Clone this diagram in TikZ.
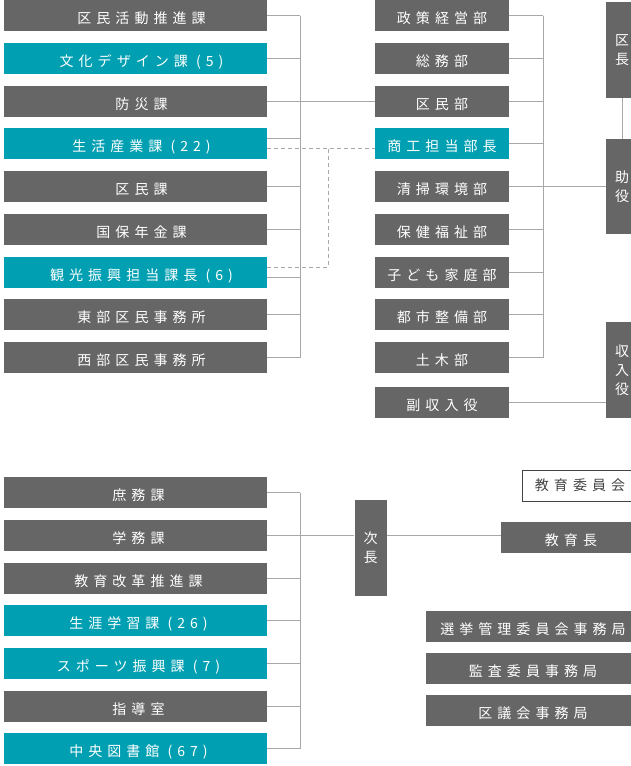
\documentclass[tikz,border=0pt]{standalone}
\usepackage{fontspec}
\newfontfamily\jp[LetterSpace=36]{Noto Sans CJK JP}
\definecolor{boxgray}{HTML}{666666}
\definecolor{tealc}{HTML}{00A0B2}
\definecolor{linegray}{HTML}{A8A8A8}
\definecolor{txtdark}{HTML}{444444}
\tikzset{
  box/.style={fill=boxgray, text=white, inner sep=0pt, minimum height=31pt,
    font=\jp\fontsize{14}{19}\selectfont, anchor=center},
  low/.style={text height=16pt, text depth=0pt},
  tl/.style={fill=tealc},
  lbox/.style={box, low, minimum width=263pt},
  mbox/.style={box, low, minimum width=134pt},
  vbox/.style={box, minimum width=32pt, minimum height=96pt, align=center},
  rbox/.style={box, low},
  conn/.style={draw=linegray, line width=1pt},
  dashline/.style={draw=linegray, line width=1pt, dashed, dash pattern=on 4pt off 3pt},
}
\begin{document}
\begin{tikzpicture}[x=1pt,y=-1pt]
\useasboundingbox (0,0) rectangle (631,766);
\fill[white] (0,0) rectangle (631,766);
% left column (top)
\node[lbox] (l1) at (135.5,15.5) {\kern12pt 区民活動推進課};
\node[lbox,tl] (l2) at (135.5,58.25) {\kern12pt 文化デザイン課 (5)};
\node[lbox] (l3) at (135.5,101) {\kern12pt 防災課};
\node[lbox,tl] (l4) at (135.5,143.75) {\kern12pt 生活産業課 (22)};
\node[lbox] (l5) at (135.5,186.5) {\kern12pt 区民課};
\node[lbox] (l6) at (135.5,229.25) {\kern12pt 国保年金課};
\node[lbox,tl] (l7) at (135.5,272) {\kern12pt 観光振興担当課長 (6)};
\node[lbox] (l8) at (135.5,314.75) {\kern12pt 東部区民事務所};
\node[lbox] (l9) at (135.5,357.5) {\kern12pt 西部区民事務所};
% middle column
\node[mbox] (m1) at (442,15.5) {政策経営部};
\node[mbox] (m2) at (442,58.25) {総務部};
\node[mbox] (m3) at (442,101) {区民部};
\node[mbox,tl] (m4) at (442,143.75) {商工担当部長};
\node[mbox] (m5) at (442,186.5) {清掃環境部};
\node[mbox] (m6) at (442,229.25) {保健福祉部};
\node[mbox] (m7) at (442,272) {子ども家庭部};
\node[mbox] (m8) at (442,314.75) {都市整備部};
\node[mbox] (m9) at (442,357.5) {土木部};
\node[mbox] (m10) at (442,402.5) {副収入役};
% right column
\node[vbox] (kucho) at (622,50) {区\\長};
\node[vbox, minimum height=95pt] (joyaku) at (622,186.5) {助\\役};
\node[vbox] (shunyu) at (622,370) {収\\入\\役};
% bus coordinates
\coordinate (busL) at (300,0);
\coordinate (busM) at (543,0);
\coordinate (dx) at (328,0);
% left connectors
\foreach \n in {l1,l2,l3,l5,l6,l8,l9}{
  \draw[conn] (\n.east) -- (\n.east -| busL);
}
\draw[conn] ([yshift=5pt]l4.east) -- ([yshift=5pt]l4.east -| busL);
\draw[conn] ([yshift=-5pt]l7.east) -- ([yshift=-5pt]l7.east -| busL);
\draw[conn] (l1.east -| busL) -- (l9.east -| busL);
\draw[conn] (l3.east -| busL) -- (m3.west);
% dashed links
\coordinate (d1) at ([yshift=-5pt]l4.east -| dx);
\draw[dashline] ([yshift=-5pt]l4.east) -- ([yshift=-5pt]l4.east -| m4.west);
\draw[dashline] ([yshift=5pt]l7.east) -| (d1);
% middle connectors
\foreach \n in {m1,m2,m3,m4,m6,m7,m8,m9}{
  \draw[conn] (\n.east) -- (\n.east -| busM);
}
\draw[conn] (m1.east -| busM) -- (m9.east -| busM);
\draw[conn] (m5.east) -- (joyaku.west);
\draw[conn] (kucho.south) -- (joyaku.north);
\draw[conn] (m10.east) -- (m10.east -| shunyu.west);
% bottom section
\node[lbox] (b1) at (135.5,492.5) {\kern6pt 庶務課};
\node[lbox] (b2) at (135.5,535.5) {\kern6pt 学務課};
\node[lbox] (b3) at (135.5,578.5) {\kern6pt 教育改革推進課};
\node[lbox,tl] (b4) at (135.5,620.5) {\kern6pt 生涯学習課 (26)};
\node[lbox,tl] (b5) at (135.5,663.5) {\kern6pt スポーツ振興課 (7)};
\node[lbox] (b6) at (135.5,706.5) {\kern6pt 指導室};
\node[lbox,tl] (b7) at (135.5,748.5) {\kern6pt 中央図書館 (67)};
\node[vbox] (jicho) at (370.5,548) {次\\長};
\node[rbox, minimum width=140pt] (kyoikucho) at (571,537) {教育長};
\node[box, fill=white, draw=txtdark, line width=0.8pt, text=txtdark, minimum width=116pt] (iinkai) at (580,485.5) {教育委員会};
\node[rbox, minimum width=214pt] (senkyo) at (533,626.5) {選挙管理委員会事務局};
\node[rbox, minimum width=214pt] (kansa) at (533,668.5) {監査委員事務局};
\node[rbox, minimum width=214pt] (gikai) at (533,710.5) {区議会事務局};
\coordinate (busB) at (300,0);
\foreach \n in {b1,b2,b3,b4,b5,b6,b7}{
  \draw[conn] (\n.east) -- (\n.east -| busB);
}
\draw[conn] (b1.east -| busB) -- (b7.east -| busB);
\draw[conn] (b2.east -| busB) -- (b2.east -| jicho.west);
\draw[conn] (b2.east -| jicho.east) -- (b2.east -| kyoikucho.west);
\end{tikzpicture}
\end{document}
